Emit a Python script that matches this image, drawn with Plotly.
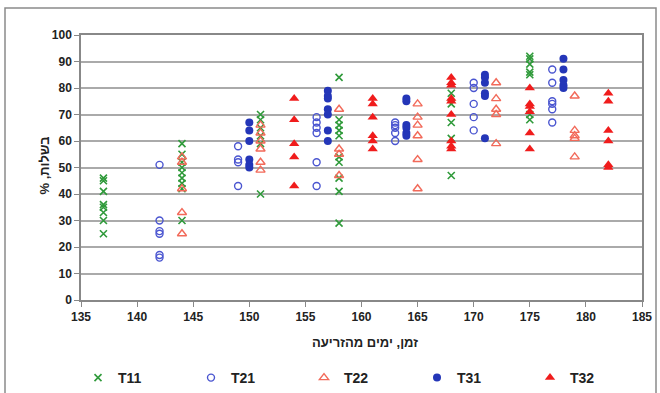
import plotly.graph_objects as go

# ---- data (x = days from sowing, y = % maturity) ----
t11_x = [137]*8 + [144]*9 + [151]*6 + [158]*10 + [168]*5 + [175]*7
t11_y = [46, 45, 41, 36, 35, 33, 30, 25,
         59, 55, 52, 50, 48, 46, 44, 42, 30,
         70, 68, 65, 62, 59, 40,
         84, 68, 66, 64, 62, 54, 52, 46, 41, 29,
         78, 74, 67, 61, 47,
         92, 91, 89, 86, 85, 70, 68]

t21_x = [142]*6 + [149]*4 + [156]*6 + [163]*5 + [170]*5 + [177]*6
t21_y = [51, 30, 26, 25, 17, 16,
         58, 53, 52, 43,
         69, 67, 65, 63, 52, 43,
         67, 66, 65, 63, 60,
         82, 80, 74, 69, 64,
         87, 82, 75, 74, 72, 67]

t22_x = [144]*5 + [151]*6 + [158]*4 + [165]*6 + [172]*5 + [179]*5
t22_y = [54, 52, 42, 33, 25,
         66, 63, 60, 57, 52, 49,
         72, 57, 55, 47,
         74, 69, 66, 62, 53, 42,
         82, 76, 72, 70, 59,
         77, 64, 62, 61, 54]

t31_x = [150]*6 + [157]*7 + [164]*6 + [171]*6 + [178]*5
t31_y = [67, 64, 60, 53, 51, 50,
         79, 77, 76, 72, 70, 64, 60,
         76, 75, 66, 65, 63, 62,
         85, 84, 82, 78, 77, 61,
         91, 87, 83, 81, 80]

t32_x = [154]*5 + [161]*6 + [168]*9 + [175]*6 + [182]*6
t32_y = [76, 68, 59, 54, 43,
         76, 74, 69, 62, 60, 57,
         84, 82, 81, 76, 75, 70, 60, 58, 57,
         80, 74, 73, 71, 63, 57,
         78, 75, 64, 60, 51, 50]

x_ticks = [135, 140, 145, 150, 155, 160, 165, 170, 175, 180, 185]
y_ticks = [0, 10, 20, 30, 40, 50, 60, 70, 80, 90, 100]

RLM = "\u200f"
x_title = "זמן, ימים מהזריעה"
y_title = "בשלות, %" + RLM

fig = go.Figure()
fig.add_trace(go.Scatter(x=t11_x, y=t11_y, mode="markers", name="T11",
                         marker=dict(symbol="x-thin-open", size=7, color="#2f9a3a",
                                     line=dict(width=1.6, color="#2f9a3a"))))
fig.add_trace(go.Scatter(x=t21_x, y=t21_y, mode="markers", name="T21",
                         marker=dict(symbol="circle-open", size=7, color="#4a55d0",
                                     line=dict(width=1.4))))
fig.add_trace(go.Scatter(x=t22_x, y=t22_y, mode="markers", name="T22",
                         marker=dict(symbol="triangle-up-open", size=8, color="#f26a5a",
                                     line=dict(width=1.4))))
fig.add_trace(go.Scatter(x=t31_x, y=t31_y, mode="markers", name="T31",
                         marker=dict(symbol="circle", size=8, color="#2436b8")))
fig.add_trace(go.Scatter(x=t32_x, y=t32_y, mode="markers", name="T32",
                         marker=dict(symbol="triangle-up", size=9, color="#f01c1c")))

L, R, T, B = 81, 642, 35, 300
W, H = 660, 393

def px(xp):
    return (xp - L) / (R - L)

def py(yp):
    return (B - yp) / (B - T)

fig.update_layout(
    width=W, height=H,
    margin=dict(l=L, r=W - R, t=T, b=H - B, autoexpand=False),
    paper_bgcolor="white", plot_bgcolor="white",
    font=dict(family="Liberation Sans, Arial", size=12, color="#222"),
    showlegend=True,
    legend=dict(orientation="h", x=px(78), xanchor="left", y=py(378), yanchor="middle",
                font=dict(size=14, color="#222", family="Liberation Sans, Arial"),
                itemwidth=30, tracegroupgap=0, entrywidth=68),
    shapes=[dict(type="rect", xref="paper", yref="paper",
                 x0=px(5), x1=px(656), y0=py(398), y1=py(8),
                 line=dict(color="#8a8a8a", width=1.5), layer="below")],
    annotations=[
        dict(text="<b>" + x_title + "</b>", xref="paper", yref="paper",
             x=px(365), y=py(352), showarrow=False, font=dict(size=13, color="#222")),
        dict(text="<b>" + y_title + "</b>", xref="paper", yref="paper", textangle=-90,
             x=px(34), y=py(165), showarrow=False, font=dict(size=13, color="#222")),
    ],
)
fig.update_xaxes(range=[135, 185], tickvals=x_ticks,
                 ticktext=[f"<b>{v}</b>" for v in x_ticks],
                 showgrid=False, zeroline=False, ticks="outside", ticklen=5,
                 tickcolor="#888", showline=True, linecolor="#888", linewidth=1.5,
                 mirror=True, tickfont=dict(size=12))
fig.update_yaxes(range=[0, 100], tickvals=y_ticks,
                 ticktext=[f"<b>{v}</b>" for v in y_ticks],
                 showgrid=True, gridcolor="#aaaaaa", gridwidth=2, zeroline=False,
                 ticks="outside", ticklen=5, tickcolor="#888",
                 showline=True, linecolor="#888", linewidth=1.5, mirror=True,
                 tickfont=dict(size=12))

for tr in fig.data:
    tr.name = f"<b>{tr.name}</b>"

fig.write_html("out.html")
